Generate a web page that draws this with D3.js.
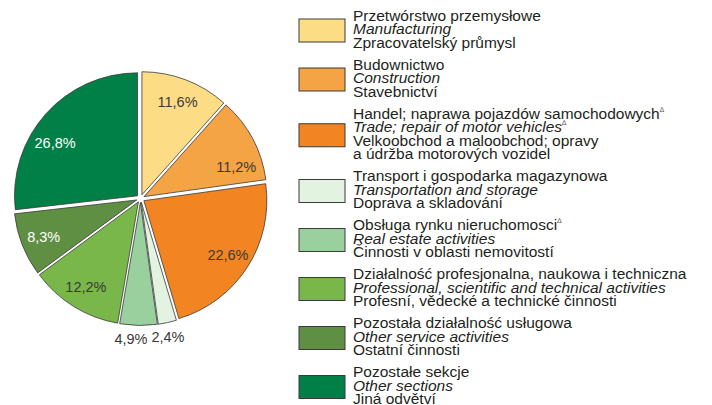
<!DOCTYPE html>
<html>
<head>
<meta charset="utf-8">
<script src="https://cdn.jsdelivr.net/npm/d3@7"></script>
<style>
  body { margin: 0; background: #fff; }
  svg { display: block; }
  text { font-family: "Liberation Sans", Arial, Helvetica, sans-serif; }
</style>
</head>
<body>
<svg id="chart" width="712" height="405"></svg>
<script>
// Sections of the economy (Polish / English / Czech names); "∆" marks a footnote.
const sectorsPL = [
  "Przetwórstwo przemysłowe",
  "Budownictwo",
  "Handel; naprawa pojazdów samochodowych∆",
  "Transport i gospodarka magazynowa",
  "Obsługa rynku nieruchomosci∆",
  "Działalność profesjonalna, naukowa i techniczna",
  "Pozostała działalność usługowa",
  "Pozostałe sekcje"
];
const sectorsEN = [
  "Manufacturing",
  "Construction",
  "Trade; repair of motor vehicles∆",
  "Transportation and storage",
  "Real estate activities",
  "Professional, scientific and technical activities",
  "Other service activities",
  "Other sections"
];
const sectorsCZ = [
  ["Zpracovatelský průmysl"],
  ["Stavebnictví"],
  ["Velkoobchod a maloobchod; opravy", "a údržba motorových vozidel"],
  ["Doprava a skladování"],
  ["Činnosti v oblasti nemovitostí"],
  ["Profesní, vědecké a technické činnosti"],
  ["Ostatní činnosti"],
  ["Jiná odvětví"]
];
// Share of each section, %
const shares = [11.6, 11.2, 22.6, 2.4, 4.9, 12.2, 8.3, 26.8];

const palette = ["#fddc86", "#f4a444", "#f38422", "#e4f2e1", "#9acf9e", "#79b74b", "#5f8f43", "#007f46"];
const lightText = [false, false, false, false, false, false, true, true];

const data = shares.map((v, i) => ({
  value: v, pl: sectorsPL[i], en: sectorsEN[i], cz: sectorsCZ[i], color: palette[i], light: lightText[i]
}));

const svg = d3.select("#chart");

// ---- pie ----
const cx = 140.5, cy = 198.5, R = 123, explode = 4;
const pie = d3.pie().sort(null).value(d => d.value);
const arcs = pie(data);
const arc = d3.arc().innerRadius(0).outerRadius(R);
const mid = a => (a.startAngle + a.endAngle) / 2;
const shift = a => [Math.sin(mid(a)) * explode, -Math.cos(mid(a)) * explode];

const g = svg.append("g").attr("transform", `translate(${cx},${cy})`);
g.selectAll("path.slice")
  .data(arcs)
  .join("path")
  .attr("class", "slice")
  .attr("d", arc)
  .attr("transform", d => `translate(${shift(d)})`)
  .attr("fill", d => d.data.color)
  .attr("stroke", "#3a3a3a")
  .attr("stroke-width", 0.8);

// value labels: inside the slice, small slices get theirs just below the rim
const smallSlice = 5;
const labelTweak = { 1: { da: 10, r: 97 }, 7: { da: -9, r: 98 }, 4: { da: 3 }, 3: { da: 1 } };
const fmt = v => v.toFixed(1).replace(".", ",") + "%";
g.selectAll("text.val")
  .data(arcs)
  .join("text")
  .attr("class", "val")
  .each(function (d, i) {
    const t = labelTweak[i] || {};
    const outside = d.data.value < smallSlice;
    const a = mid(d) + (t.da || 0) * Math.PI / 180;
    const r = t.r || (outside ? 141 : 100);
    const [sx, sy] = outside ? [0, 0] : shift(d);
    d3.select(this)
      .attr("x", Math.sin(a) * r + sx)
      .attr("y", -Math.cos(a) * r + sy)
      .attr("dy", "0.36em");
  })
  .attr("text-anchor", "middle")
  .attr("font-size", 14.5)
  .attr("fill", d => d.data.light ? "#ffffff" : "#3a3a3a")
  .text(d => fmt(d.data.value));

// ---- legend ----
const lx = 299, boxW = 46, boxH = 23, tx = 353;
const lineH = 13.5, gap = 8.5, firstBase = 20.5;

function addLine(sel, str, italic) {
  const parts = str.split("∆");
  const t = sel.append("text")
    .attr("font-size", 15.5)
    .attr("fill", "#231f20")
    .attr("font-style", italic ? "italic" : "normal");
  t.append("tspan").text(parts[0]);
  if (parts.length > 1) {
    t.append("tspan").attr("font-size", 7).attr("font-style", "normal")
      .attr("fill", "#555").attr("dy", -7).text("∆");
  }
  return t;
}

let base = firstBase;
data.forEach(d => {
  const lines = [{ s: d.pl, it: false }, { s: d.en, it: true }, ...d.cz.map(s => ({ s, it: false }))];
  const item = svg.append("g");
  lines.forEach((ln, k) => {
    addLine(item, ln.s, ln.it).attr("x", tx).attr("y", base + k * lineH);
  });
  const center = base - 3.5 + (lines.length - 1) * lineH / 2;
  item.append("rect")
    .attr("x", lx).attr("y", center - boxH / 2)
    .attr("width", boxW).attr("height", boxH)
    .attr("fill", d.color)
    .attr("stroke", "#3a3a3a").attr("stroke-width", 1);
  base += lines.length * lineH + gap;
});
</script>
</body>
</html>
